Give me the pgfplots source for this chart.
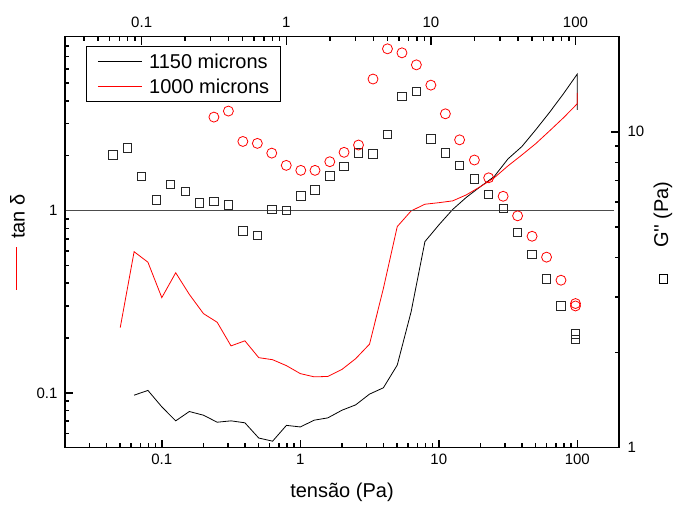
\documentclass[border=0pt]{standalone}
\usepackage{pgfplots}
\pgfplotsset{compat=1.18}
\usepackage{fontspec}
\setmainfont{Liberation Sans}
\begin{document}
\begin{tikzpicture}
\begin{axis}[
  width=554bp, height=411bp, scale only axis,
  xmode=log, ymode=log,
  xtick pos=left, ytick pos=left,
  tick align=inside,
  major tick length=8bp, minor tick length=4.5bp,
  tick style={draw=black, line width=1.5bp},
  axis line style={draw=black, line width=1.4bp},
  /pgf/number format/assume math mode=true,
  tick label style={font=\fontsize{15bp}{18bp}\selectfont},
  xticklabel style={yshift=-3bp},
  yticklabel style={xshift=-4bp},
  xmin=0.02, xmax=200, ymin=0.05, ymax=9,
  xtick={0.1,1,10,100}, xticklabels={0.1,1,10,100},
  minor xtick={0.03,0.04,0.05,0.06,0.07,0.08,0.09,0.2,0.3,0.4,0.5,0.6,0.7,0.8,0.9,2,3,4,5,6,7,8,9,20,30,40,50,60,70,80,90,200},
  ytick={0.1,1}, yticklabels={0.1,1},
  minor ytick={0.06,0.07,0.08,0.09,0.2,0.3,0.4,0.5,0.6,0.7,0.8,0.9,2,3,4,5,6,7,8,9},
  xlabel={tensão (Pa)},
  xlabel style={font=\fontsize{20bp}{24bp}\selectfont, at={(axis description cs:0.5,0)}, anchor=center, yshift=-45bp},
  ylabel={\textcolor{red}{\rule[7.5bp]{43bp}{0.9bp}}\hspace{8bp}tan δ},
  ylabel style={font=\fontsize{20bp}{24bp}\selectfont, at={(axis description cs:-0.0857,0.5)}, anchor=center},
  legend style={at={(axis description cs:0,1)}, anchor=north west, xshift=21bp, yshift=-9.3bp,
    draw=black, line width=0.8bp, fill=white, inner xsep=11bp, inner ysep=4.5bp,
    font=\fontsize{20bp}{24bp}\selectfont, row sep=4bp,
    nodes={inner sep=0pt, text height=17.5bp, text depth=3.5bp},
    /tikz/every odd column/.append style={column sep=7bp}},
  legend cell align=left,
  legend image code/.code={\draw[#1] (0bp,0bp) -- (44bp,0bp);},
]
\addplot[black, line width=0.8bp] coordinates {
(0.0631,0.0971) (0.0794,0.1031) (0.1,0.0838) (0.126,0.0702) (0.158,0.079)
(0.2,0.0754) (0.251,0.069) (0.316,0.0702) (0.398,0.0685) (0.501,0.0565)
(0.631,0.0543) (0.794,0.0663) (1,0.065) (1.26,0.0708) (1.58,0.0729)
(2.0,0.0803) (2.51,0.0859) (3.16,0.0984) (3.98,0.1066) (5.01,0.142)
(6.31,0.2786) (7.94,0.676) (10,0.834) (12.6,1.015) (15.8,1.182)
(20,1.355) (25.1,1.537) (31.6,1.923) (39.8,2.247) (50.1,2.776)
(63.1,3.464) (79.4,4.376) (100,5.616) (100,3.575)
};
\addlegendentry{1150 microns}
\addplot[red, line width=0.8bp] coordinates {
(0.0501,0.228) (0.0631,0.595) (0.0794,0.521) (0.1,0.333) (0.126,0.456)
(0.158,0.347) (0.2,0.272) (0.251,0.244) (0.316,0.181) (0.398,0.193)
(0.501,0.156) (0.631,0.152) (0.794,0.141) (1,0.1275) (1.26,0.1224)
(1.58,0.123) (2.0,0.1345) (2.51,0.154) (3.16,0.185) (3.98,0.374)
(5.01,0.817) (6.31,0.996) (7.94,1.084) (10,1.105) (12.6,1.131)
(15.8,1.22) (20,1.355) (25.1,1.513) (31.6,1.76) (39.8,2.02)
(50.1,2.33) (63.1,2.74) (79.4,3.23) (100,3.86) (100,4.42)
};
\addlegendentry{1000 microns}
\addplot[black!70, line width=0.9bp, forget plot] coordinates {(0.02,1) (184,1)};
\end{axis}
\begin{axis}[
  width=554bp, height=411bp, scale only axis,
  xmode=log, ymode=log,
  xtick pos=right, ytick pos=right,
  tick align=inside,
  major tick length=8bp, minor tick length=4.5bp,
  tick style={draw=black, line width=1.5bp},
  axis line style={draw=black, line width=1.4bp},
  /pgf/number format/assume math mode=true,
  tick label style={font=\fontsize{15bp}{18bp}\selectfont},
  xticklabel pos=right, yticklabel pos=right,
  xticklabel style={yshift=5.5bp},
  yticklabel style={xshift=5bp},
  xmin=0.0295, xmax=200, ymin=1, ymax=20,
  xtick={0.1,1,10,100}, xticklabels={0.1,1,10,100},
  minor xtick={0.04,0.05,0.06,0.07,0.08,0.09,0.2,0.3,0.4,0.5,0.6,0.7,0.8,0.9,2,3,4,5,6,7,8,9,20,30,40,50,60,70,80,90,200},
  ytick={1,10}, yticklabels={1,10},
  minor ytick={2,3,4,5,6,7,8,9,20},
  ylabel={\setlength\fboxsep{0pt}\setlength\fboxrule{0.8bp}\raisebox{1bp}{\fbox{\rule{0pt}{7.6bp}\hspace{7.6bp}}}\hspace{26.5bp}G\textquotesingle\textquotesingle\ (Pa)},
  ylabel style={font=\fontsize{20bp}{24bp}\selectfont, at={(axis description cs:1.0794,0.5236)}, anchor=center},
]
\addplot[only marks, mark=square, mark size=4.2bp, mark options={black!85, line width=0.8bp}] coordinates {
(0.0631,8.44) (0.0794,8.90) (0.1,7.22) (0.126,6.08) (0.158,6.83)
(0.2,6.49) (0.251,5.95) (0.316,6.03) (0.398,5.87) (0.501,4.86)
(0.631,4.69) (0.794,5.69) (1,5.65) (1.26,6.27) (1.58,6.54)
(2.0,7.26) (2.51,7.78) (3.16,8.58) (3.98,8.50) (5.01,9.83)
(6.31,12.94) (7.94,13.43) (10,9.50) (12.6,8.58) (15.8,7.83)
(20,7.09) (25.1,6.35) (31.6,5.73) (39.8,4.80) (50.1,4.09)
(63.1,3.42) (79.4,2.81) (100,2.29) (100,2.20)
};
\addplot[only marks, mark=o, mark size=5bp, mark options={red, line width=0.8bp}] coordinates {
(0.316,11.13) (0.398,11.63) (0.501,9.32) (0.631,9.19) (0.794,8.56)
(1,7.83) (1.26,7.55) (1.58,7.55) (2.0,8.04) (2.51,8.61)
(3.16,9.08) (3.98,14.69) (5.01,18.31) (6.31,17.78) (7.94,16.29)
(10,14.05) (12.6,11.40) (15.8,9.43) (20,8.14) (25.1,7.15)
(31.6,6.25) (39.8,5.42) (50.1,4.67) (63.1,4.01) (79.4,3.39)
(100,2.86) (100,2.81)
};
\end{axis}
\pgfresetboundingbox
\path (-65bp,-59.3bp) rectangle (608bp,447.7bp);
\end{tikzpicture}
\end{document}
